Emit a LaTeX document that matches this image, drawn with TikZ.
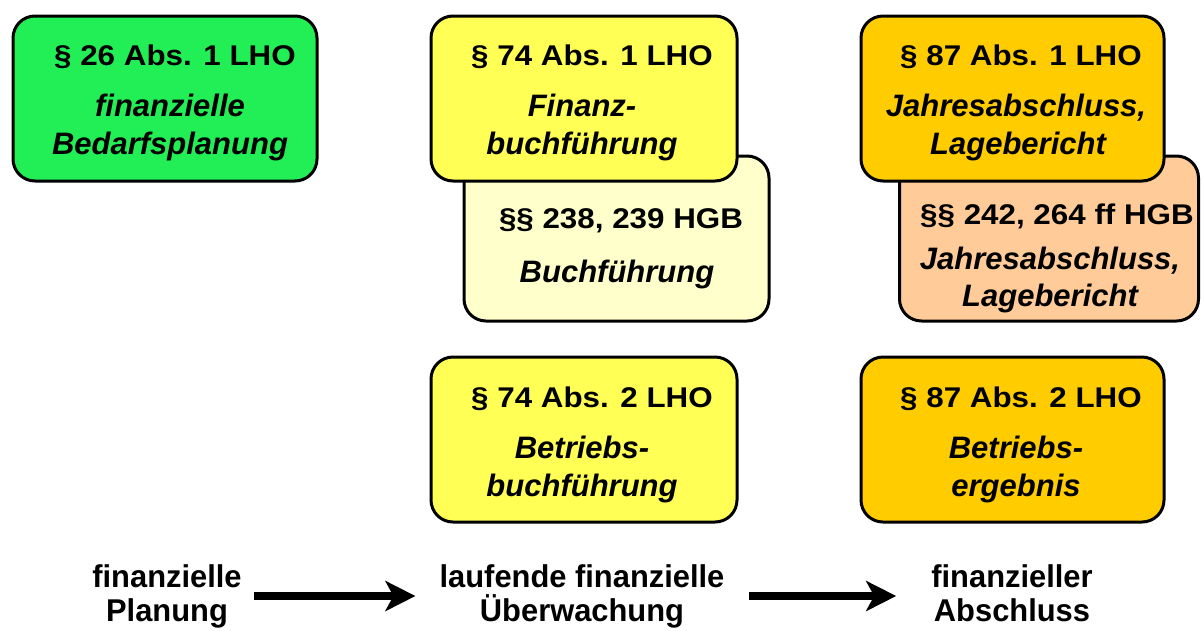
\documentclass[tikz,border=0pt]{standalone}
\usepackage{fontspec}
\setmainfont{Liberation Sans}
\newfontfamily\titlefont[FakeStretch=1.1]{Liberation Sans}
\newfontfamily\labelfont[FakeStretch=0.98]{Liberation Sans}
\usetikzlibrary{arrows.meta}

\definecolor{planGreen}{HTML}{22EE55}
\definecolor{lhoYellow}{HTML}{FFFF55}
\definecolor{hgbYellow}{HTML}{FFFFCC}
\definecolor{lhoOrange}{HTML}{FFCC00}
\definecolor{hgbPeach}{HTML}{FFCC99}

\tikzset{
  card/.style={draw=black, line width=3pt, rounded corners=22pt, inner sep=0pt,
               minimum width=#1, minimum height=165pt},
  card/.default=306pt,
  ttl/.style={anchor=base, inner sep=0pt, font=\titlefont\bfseries\fontsize{28.5}{30}\selectfont},
  itl/.style={anchor=base, inner sep=0pt, font=\bfseries\itshape\fontsize{31}{33}\selectfont},
  phase/.style={inner sep=0pt, align=center, font=\labelfont\bfseries\fontsize{31.5}{34}\selectfont},
  flow/.style={line width=8pt, -{Stealth[length=30pt, width=30pt, inset=8pt]}}
}

\begin{document}
\begin{tikzpicture}[x=1pt, y=-1pt]
  \useasboundingbox (0,0) rectangle (1201,630);

  % planning column
  \node[card=304pt, fill=planGreen] (plan) at (165,98.5) {};
  \node[ttl] (planT) at (175,65) {§ 26 Abs. 1 LHO};
  \node[itl] (planA) at (170,116) {finanzielle};
  \node[itl] (planB) at (170,154) {Bedarfsplanung};

  % bookkeeping column: HGB card behind the LHO card
  \node[card=305pt, fill=hgbYellow] (hgbBuch) at (616.5,238.5) {};
  \node[ttl] (hgbBuchT) at (621,228) {§§ 238, 239 HGB};
  \node[itl] (hgbBuchA) at (617,282) {Buchführung};

  \node[card=306pt, fill=lhoYellow] (fibu) at (584,98.5) {};
  \node[ttl] (fibuT) at (592,65) {§ 74 Abs. 1 LHO};
  \node[itl] (fibuA) at (582,116) {Finanz-};
  \node[itl] (fibuB) at (582,154) {buchführung};

  \node[card=306pt, fill=lhoYellow] (bebu) at (584,439.5) {};
  \node[ttl] (bebuT) at (592,407) {§ 74 Abs. 2 LHO};
  \node[itl] (bebuA) at (582,458) {Betriebs-};
  \node[itl] (bebuB) at (582,496) {buchführung};

  % closing column: HGB card behind the LHO card
  \node[card=299pt, fill=hgbPeach] (hgbJa) at (1049,238.5) {};
  \node[ttl] (hgbJaT) at (1057,224) {§§ 242, 264 ff HGB};
  \node[itl] (hgbJaA) at (1050,269) {Jahresabschluss,};
  \node[itl] (hgbJaB) at (1050,306) {Lagebericht};

  \node[card=303pt, fill=lhoOrange] (ja) at (1012.5,98.5) {};
  \node[ttl] (jaT) at (1021,65) {§ 87 Abs. 1 LHO};
  \node[itl] (jaA) at (1016,116) {Jahresabschluss,};
  \node[itl] (jaB) at (1018,154) {Lagebericht};

  \node[card=303pt, fill=lhoOrange] (erg) at (1012.5,439.5) {};
  \node[ttl] (ergT) at (1021,407) {§ 87 Abs. 2 LHO};
  \node[itl] (ergA) at (1016,458) {Betriebs-};
  \node[itl] (ergB) at (1016,496) {ergebnis};

  % phases along the bottom
  \node[phase] (p1) at (167,596) {finanzielle\\Planung};
  \node[phase] (p2) at (582,596) {laufende finanzielle\\Überwachung};
  \node[phase] (p3) at (1012,593) {finanzieller\\Abschluss};

  \draw[flow] ([xshift=12pt]p1.east) -- ([xshift=-24pt]p2.west);
  \draw[flow] ([xshift=24pt]p2.east) -- ([xshift=-35pt]p3.west |- p2.east);
\end{tikzpicture}
\end{document}
